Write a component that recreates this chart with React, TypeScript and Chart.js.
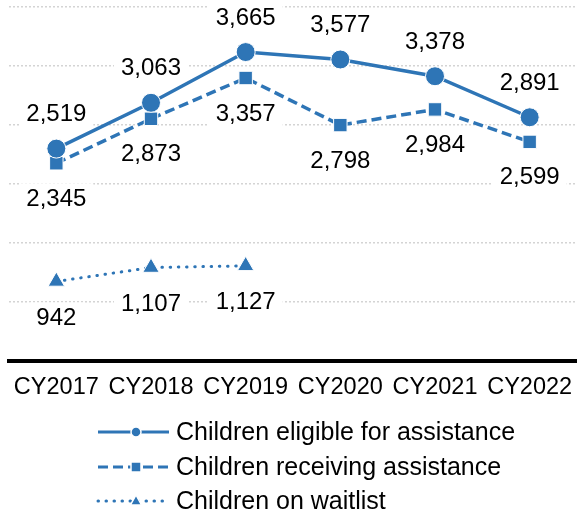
import React, { useEffect, useRef } from 'react';
import { Chart, registerables } from 'chart.js';

Chart.register(...registerables);

const categories = ['CY2017', 'CY2018', 'CY2019', 'CY2020', 'CY2021', 'CY2022'];
const eligible = [2519, 3063, 3665, 3577, 3378, 2891];
const receiving = [2345, 2873, 3357, 2798, 2984, 2599];
const waitlist: (number | null)[] = [942, 1107, 1127, null, null, null];
const seriesNames = [
  'Children eligible for assistance',
  'Children receiving assistance',
  'Children on waitlist',
];
const yMin = 0;
const yMax = 4200;
const yStep = 700;

const BLUE = '#2E75B6';
const FONT = "'Liberation Sans', Arial, sans-serif";
const LABEL_OFFSETS = [-35, 35, 36];

const fmt = (v: number) => v.toLocaleString('en-US');

const labelPlugin = {
  id: 'valueLabels',
  beforeDatasetsDraw(chart: any) {
    const ctx = chart.ctx;
    ctx.save();
    ctx.font = `24px ${FONT}`;
    ctx.fillStyle = '#ffffff';
    chart.data.datasets.forEach((ds: any, di: number) => {
      const meta = chart.getDatasetMeta(di);
      meta.data.forEach((pt: any, i: number) => {
        const v = ds.data[i];
        if (v === null || v === undefined) return;
        const txt = fmt(v);
        const w = ctx.measureText(txt).width;
        const cy = pt.y + LABEL_OFFSETS[di];
        ctx.fillRect(pt.x - w / 2 - 7, cy - 15, w + 14, 30);
      });
    });
    ctx.restore();
  },
  afterDatasetsDraw(chart: any) {
    const ctx = chart.ctx;
    ctx.save();
    ctx.font = `24px ${FONT}`;
    ctx.fillStyle = '#000000';
    ctx.textAlign = 'center';
    ctx.textBaseline = 'middle';
    chart.data.datasets.forEach((ds: any, di: number) => {
      const meta = chart.getDatasetMeta(di);
      meta.data.forEach((pt: any, i: number) => {
        const v = ds.data[i];
        if (v === null || v === undefined) return;
        ctx.fillText(fmt(v), pt.x, pt.y + LABEL_OFFSETS[di] + 1);
      });
    });
    ctx.restore();
  },
  afterDraw(chart: any) {
    const ctx = chart.ctx;
    const rows = [432, 467, 501];
    const x0 = 98;
    const x1 = 169;
    const mx = 136;
    ctx.save();
    rows.forEach((ry, i) => {
      ctx.strokeStyle = BLUE;
      ctx.lineWidth = 3;
      ctx.beginPath();
      if (i === 0) {
        ctx.setLineDash([]);
        ctx.lineCap = 'butt';
      } else if (i === 1) {
        ctx.setLineDash([10, 5]);
        ctx.lineCap = 'butt';
      } else {
        ctx.setLineDash([0.5, 7.5]);
        ctx.lineCap = 'round';
      }
      ctx.moveTo(x0, ry);
      ctx.lineTo(x1, ry);
      ctx.stroke();
      ctx.setLineDash([]);
      ctx.fillStyle = BLUE;
      ctx.strokeStyle = '#ffffff';
      ctx.lineWidth = 1.5;
      ctx.beginPath();
      if (i === 0) {
        ctx.arc(mx, ry, 5, 0, Math.PI * 2);
      } else if (i === 1) {
        ctx.rect(mx - 5, ry - 5, 10, 10);
      } else {
        ctx.moveTo(mx, ry - 6);
        ctx.lineTo(mx + 5.5, ry + 4);
        ctx.lineTo(mx - 5.5, ry + 4);
        ctx.closePath();
      }
      ctx.fill();
      ctx.stroke();
      ctx.fillStyle = '#000000';
      ctx.font = `25px ${FONT}`;
      ctx.textAlign = 'left';
      ctx.textBaseline = 'middle';
      ctx.fillText(seriesNames[i], 176, ry + 1);
    });
    ctx.restore();
  },
};

export default function App() {
  const canvasRef = useRef<HTMLCanvasElement | null>(null);

  useEffect(() => {
    if (!canvasRef.current) return;
    const chart = new Chart(canvasRef.current, {
      type: 'line',
      data: {
        labels: categories,
        datasets: [
          {
            label: seriesNames[0],
            data: eligible,
            borderColor: BLUE,
            backgroundColor: BLUE,
            borderWidth: 3.5,
            pointStyle: 'circle',
            pointRadius: 9.5,
            pointBorderColor: '#ffffff',
            pointBorderWidth: 1,
            pointBackgroundColor: BLUE,
            tension: 0,
          },
          {
            label: seriesNames[1],
            data: receiving,
            borderColor: BLUE,
            backgroundColor: BLUE,
            borderWidth: 3.5,
            borderDash: [10, 5],
            pointStyle: 'rect',
            pointRadius: 9.5,
            pointBorderColor: '#ffffff',
            pointBorderWidth: 1,
            pointBackgroundColor: BLUE,
            tension: 0,
          },
          {
            label: seriesNames[2],
            data: waitlist,
            borderColor: BLUE,
            backgroundColor: BLUE,
            borderWidth: 3,
            borderDash: [0.5, 7.7],
            borderCapStyle: 'round',
            pointStyle: 'triangle',
            pointRadius: 9.5,
            pointBorderColor: '#ffffff',
            pointBorderWidth: 1,
            pointBackgroundColor: BLUE,
            spanGaps: false,
            tension: 0,
          },
        ],
      },
      options: {
        animation: false,
        responsive: false,
        maintainAspectRatio: false,
        layout: { autoPadding: false, padding: { left: 9, right: 0, top: 7, bottom: 114 } },
        plugins: {
          legend: { display: false },
          tooltip: { enabled: false },
        },
        scales: {
          x: {
            offset: true,
            grid: { display: false, drawTicks: true, tickLength: 13, offset: true },
            border: { display: true, color: '#000000', width: 4 },
            ticks: {
              color: '#000000',
              font: { family: FONT, size: 23.5 },
              padding: 0,
              maxRotation: 0,
              autoSkip: false,
            },
          },
          y: {
            min: yMin,
            max: yMax,
            ticks: { display: false, stepSize: yStep },
            grid: { color: '#d4d4d4', lineWidth: 1.5, drawTicks: false },
            border: { display: false, dash: [2, 2] },
          },
        },
      },
      plugins: [labelPlugin],
    });
    return () => chart.destroy();
  }, []);

  return (
    <div style={{ position: 'fixed', left: 0, top: 0, width: 577, height: 516, background: '#fff' }}>
      <canvas ref={canvasRef} width={577} height={516} style={{ width: 577, height: 516, display: 'block' }} />
    </div>
  );
}
